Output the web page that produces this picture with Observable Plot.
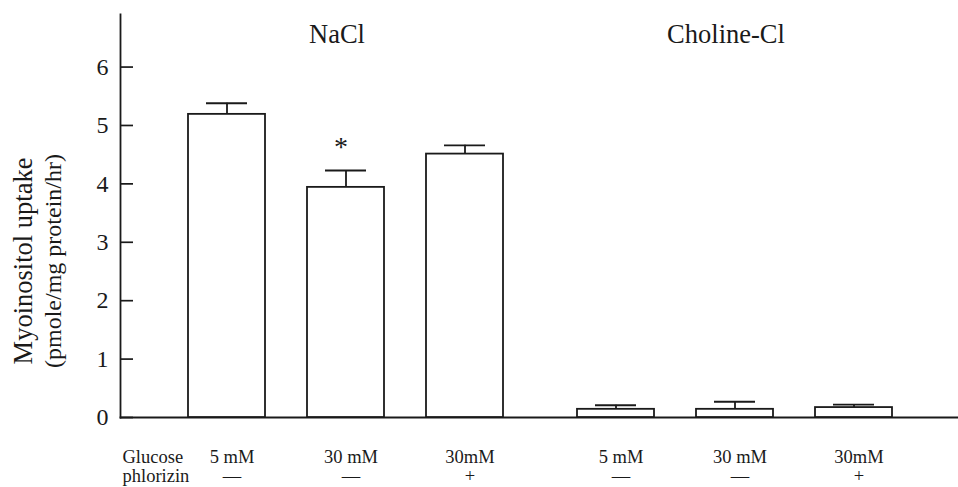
<!DOCTYPE html>
<html><head><meta charset="utf-8">
<script src="https://cdn.jsdelivr.net/npm/d3@7"></script>
<script src="https://cdn.jsdelivr.net/npm/@observablehq/plot@0.6"></script>
<style>html,body{margin:0;padding:0;background:#fff;overflow:hidden}#chart svg{display:block;max-width:none}</style>
</head><body><div id="chart"></div>
<script>
const groups = ["NaCl", "Choline-Cl"];
const glucose = ["5 mM", "30 mM", "30mM"];
const phlorizin = ["—", "—", "+"];
const naclUptake = [5.19, 3.94, 4.51];
const naclSE = [0.19, 0.29, 0.15];
const cholineUptake = [0.14, 0.14, 0.17];
const cholineSE = [0.07, 0.13, 0.05];
const yTicks = [0, 1, 2, 3, 4, 5, 6];
const yMax = 6.9;
const rowLabel = "Glucose\nphlorizin";
const yLabel1 = "Myoinositol uptake";
const yLabel2 = "(pmole/mg protein/hr)";
const significant = [{group: "NaCl", glucose: "30 mM", mark: "*"}];

const rows = [];
groups.forEach((g, gi) => {
  const v = gi === 0 ? naclUptake : cholineUptake;
  const se = gi === 0 ? naclSE : cholineSE;
  glucose.forEach((c, i) => rows.push({group: g, glucose: c, value: v[i], se: se[i], top: v[i] + se[i]}));
});
const sigRows = significant.map(s => ({...s, top: rows.find(r => r.group === s.group && r.glucose === s.glucose).top}));

const ink = "#1a1a1a";
const serif = '"Liberation Serif", "Times New Roman", serif';

const chart = Plot.plot({
  width: 958, height: 487,
  marginLeft: 120, marginRight: 0, marginTop: 14, marginBottom: 70,
  style: {fontFamily: serif, background: "white", color: ink},
  fx: {domain: groups, paddingInner: 0, paddingOuter: 0.0744, align: 0, axis: null},
  x: {domain: glucose, paddingInner: 0.35, paddingOuter: 0.3, align: 0.93, axis: null},
  y: {domain: [0, yMax], axis: null},
  marks: [
    Plot.frame({anchor: "left", facet: "super", stroke: ink, strokeWidth: 1.8}),
    Plot.frame({anchor: "bottom", facet: "super", insetRight: -100, stroke: ink, strokeWidth: 1.8}),
    Plot.axisY({ticks: yTicks, tickSize: -13, tickPadding: 25, fontSize: 24, fontFamily: serif, strokeWidth: 1.7, label: null, tickFormat: d => String(d)}),
    Plot.axisX({tickSize: 0, tickPadding: 32, dx: 5, fontSize: 18.5, fontFamily: serif, lineHeight: 1.03, label: null,
      tickFormat: d => d + "\n" + phlorizin[glucose.indexOf(d)]}),
    Plot.barY(rows, {fx: "group", x: "glucose", y: "value", fill: "white", stroke: ink, strokeWidth: 1.8}),
    Plot.ruleX(rows, {fx: "group", x: "glucose", y1: "value", y2: "top", stroke: ink, strokeWidth: 1.8}),
    Plot.tickY(rows, {fx: "group", x: "glucose", y: "top", insetLeft: 18, insetRight: 18, stroke: ink, strokeWidth: 1.9}),
    Plot.text(groups, {fx: d => d, x: () => glucose[1], text: d => d, frameAnchor: "top", lineAnchor: "top", dy: 10, dx: -9, fontSize: 26.5, fontFamily: serif}),
    Plot.text(sigRows, {fx: "group", x: "glucose", y: "top", text: "mark", dy: -23, dx: -5, fontSize: 28, fontFamily: serif}),
    Plot.text([{group: groups[0], t: rowLabel}], {fx: "group", text: "t", frameAnchor: "bottom-left", textAnchor: "start", lineAnchor: "top", dy: 32, dx: 2, fontSize: 18.5, fontFamily: serif, lineHeight: 1.03}),
    Plot.text([{group: groups[0], t: yLabel1}], {fx: "group", text: "t", frameAnchor: "left", textAnchor: "middle", lineAnchor: "middle", rotate: -90, dx: -97, dy: 45, fontSize: 26.5, fontFamily: serif}),
    Plot.text([{group: groups[0], t: yLabel2}], {fx: "group", text: "t", frameAnchor: "left", textAnchor: "middle", lineAnchor: "middle", rotate: -90, dx: -67, dy: 45, fontSize: 24, fontFamily: serif})
  ]
});
document.getElementById("chart").append(chart);
</script>
</body></html>
